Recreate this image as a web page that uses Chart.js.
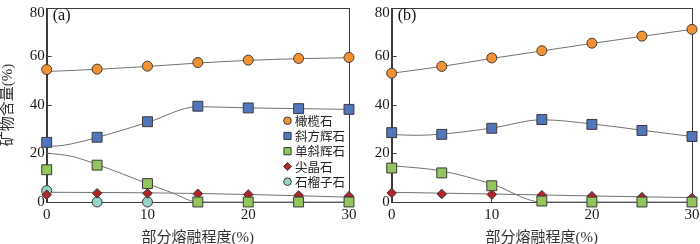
<!DOCTYPE html>
<html>
<head>
<meta charset="utf-8">
<script src="https://cdn.jsdelivr.net/npm/chart.js@4.4.0/dist/chart.umd.min.js"></script>
<style>
    html, body { margin: 0; padding: 0; background: #fff; }
    #wrap { position: relative; width: 700px; height: 244px; overflow: hidden; }
    #boxA { position: absolute; left: 0; top: 0; width: 365px; height: 244px; }
    #boxB { position: absolute; left: 365px; top: 0; width: 335px; height: 244px; }
</style>
</head>
<body>
<div id="wrap">
    <div id="boxA"><canvas id="chartA"></canvas></div>
    <div id="boxB"><canvas id="chartB"></canvas></div>
</div>
<script>
// =============================
// Data
// =============================

const meltX = [0, 5, 10, 15, 20, 25, 30];
const garnetX = [0, 5, 10];
const xTicks = [0, 10, 20, 30];
const yTicks = [0, 20, 40, 60, 80];

// (a) measured points
const olivineA = [54.6, 54.8, 56.0, 57.5, 58.5, 59.2, 59.6];
const opxA = [24.6, 26.7, 33.1, 39.5, 38.8, 38.5, 38.2];
const cpxA = [13.3, 15.2, 7.6, 0, 0, 0, 0];
const spinelA = [3.0, 3.6, 3.6, 3.4, 3.1, 2.7, 2.4];
const garnetA = [4.7, 0, 0];

// (a) fitted curves [x, y]
const olivineFitA = [[0, 53.8], [5, 54.7], [10, 55.9], [15, 57.3], [20, 58.4], [25, 59.1], [30, 59.5]];
const opxFitA = [[0, 23.0], [1, 23.1], [2.5, 24.0], [5, 26.6], [10, 32.8], [15, 39.3], [20, 38.8], [25, 38.5], [30, 38.2]];
const cpxFitA = [[0, 20.2], [2.5, 18.8], [5, 15.5], [7.5, 11.6], [10, 7.6], [12.5, 3.7], [15, 0], [30, 0]];
const spinelFitA = [[0, 4.0], [10, 3.8], [20, 3.1], [30, 2.0]];

// (b) measured points
const olivineB = [53.1, 55.9, 59.4, 62.4, 65.5, 68.4, 71.2];
const opxB = [28.6, 27.9, 30.4, 34.0, 32.0, 29.5, 27.0];
const cpxB = [14.0, 12.0, 6.7, 0.4, 0, 0, 0];
const spinelB = [3.7, 3.3, 3.1, 2.8, 2.4, 2.0, 1.6];

// (b) fitted curves [x, y]
const olivineFitB = [[0, 53.1], [5, 55.9], [10, 59.2], [15, 62.3], [20, 65.4], [25, 68.3], [30, 71.2]];
const opxFitB = [[0, 27.8], [2.5, 27.5], [5, 28.0], [10, 30.5], [15, 33.9], [20, 32.2], [25, 29.6], [30, 27.0]];
const cpxFitB = [[0, 15.0], [5, 12.8], [10, 7.4], [15, 0], [30, 0]];
const spinelFitB = [[0, 4.0], [10, 3.3], [20, 2.5], [30, 1.8]];

const legendNames = ['橄榄石', '斜方辉石', '单斜辉石', '尖晶石', '石榴子石'];


// =============================
// Styles
// =============================

const COLORS = {
    olivine: '#F5922F',
    opx: '#5076BD',
    cpx: '#92C55A',
    spinel: '#B5232A',
    garnet: '#92D5CB'
};
const EDGE = '#3a3a3a';
const AXIS = '#3c3c3c';
const SERIF = '"Liberation Serif", "DejaVu Serif", serif';
const CJK = '"Liberation Serif", "Noto Sans CJK SC", serif';

Chart.defaults.font.family = SERIF;

function pts(xs, ys) {
    return ys.map((y, i) => ({ x: xs[i], y: y }));
}

function pairs(list) {
    return list.map(p => ({ x: p[0], y: p[1] }));
}

function markers(label, data, style, color, radius) {
    return {
        type: 'scatter',
        label: label,
        data: data,
        pointStyle: style,
        pointRadius: radius,
        pointHoverRadius: radius,
        pointBackgroundColor: color,
        pointBorderColor: EDGE,
        pointBorderWidth: 1,
        showLine: false,
        clip: false,
        order: 1
    };
}

function curve(data) {
    return {
        type: 'line',
        data: pairs(data),
        borderColor: '#727272',
        borderWidth: 1,
        pointRadius: 0,
        fill: false,
        cubicInterpolationMode: 'monotone',
        clip: false,
        order: 2
    };
}


// =============================
// Plugins: frame, panel tag, legend
// =============================

const framePlugin = {
    id: 'frame',
    beforeDatasetsDraw(chart, args, opts) {
        const a = chart.chartArea;
        const ctx = chart.ctx;
        ctx.save();
        ctx.strokeStyle = AXIS;
        ctx.lineWidth = 1;
        ctx.strokeRect(Math.round(a.left) + 0.5, Math.round(a.top) + 0.5,
            Math.round(a.right - a.left), Math.round(a.bottom - a.top));
        ctx.fillStyle = '#111';
        ctx.font = '16px ' + SERIF;
        ctx.textBaseline = 'middle';
        ctx.textAlign = 'left';
        ctx.fillText(opts.tag, a.left + 6, 16);
        ctx.restore();
    }
};

const legendPlugin = {
    id: 'mineralLegend',
    afterDatasetsDraw(chart) {
        const ctx = chart.ctx;
        const styles = [
            ['circle', COLORS.olivine],
            ['rect', COLORS.opx],
            ['rect', COLORS.cpx],
            ['diamond', COLORS.spinel],
            ['circle', COLORS.garnet]
        ];
        const mx = 287.5, tx = 295, y0 = 120.7, dy = 15.25;
        ctx.save();
        ctx.strokeStyle = EDGE;
        ctx.lineWidth = 1;
        legendNames.forEach((name, i) => {
            const y = y0 + i * dy;
            const s = styles[i];
            ctx.fillStyle = s[1];
            ctx.beginPath();
            if (s[0] === 'circle') {
                ctx.arc(mx, y, 3.8, 0, Math.PI * 2);
            } else if (s[0] === 'rect') {
                ctx.rect(mx - 3.6, y - 3.6, 7.2, 7.2);
            } else {
                ctx.moveTo(mx - 4, y);
                ctx.lineTo(mx, y - 4);
                ctx.lineTo(mx + 4, y);
                ctx.lineTo(mx, y + 4);
                ctx.closePath();
            }
            ctx.fill();
            ctx.stroke();
            ctx.fillStyle = '#222';
            ctx.font = '12.5px "Noto Sans CJK SC", sans-serif';
            ctx.textBaseline = 'middle';
            ctx.textAlign = 'left';
            ctx.fillText(name, tx, y + 0.5);
        });
        ctx.restore();
    }
};


// =============================
// Chart Configuration
// =============================

function createPanel(canvasId, datasets, cfg) {
    return new Chart(document.getElementById(canvasId), {
        type: 'scatter',
        data: { datasets: datasets },
        plugins: cfg.legend ? [framePlugin, legendPlugin] : [framePlugin],
        options: {
            responsive: true,
            maintainAspectRatio: false,
            animation: false,
            events: [],
            layout: { padding: { left: 0, right: cfg.padRight, top: 2, bottom: 0 } },
            plugins: {
                legend: { display: false },
                tooltip: { enabled: false },
                frame: { tag: cfg.tag }
            },
            scales: {
                x: {
                    type: 'linear',
                    min: 0,
                    max: 30,
                    afterBuildTicks: s => { s.ticks = xTicks.map(v => ({ value: v })); },
                    afterFit: s => { s.height = 42; s.paddingLeft = 0; s.paddingRight = 0; },
                    grid: { drawOnChartArea: false, tickLength: -5, color: AXIS },
                    border: { color: AXIS },
                    ticks: {
                        padding: 9,
                        maxRotation: 0,
                        autoSkip: false,
                        color: '#1a1a1a',
                        font: { family: SERIF, size: 15 }
                    },
                    title: {
                        display: true,
                        text: '部分熔融程度(%)',
                        color: '#333',
                        padding: 0,
                        font: { family: CJK, size: 15, lineHeight: 0.8 }
                    }
                },
                y: {
                    min: 0,
                    max: 80,
                    afterBuildTicks: s => { s.ticks = yTicks.map(v => ({ value: v })); },
                    afterFit: s => { s.width = cfg.yWidth; s.paddingTop = 0; s.paddingBottom = 0; },
                    grid: { drawOnChartArea: false, tickLength: -5, color: AXIS },
                    border: { color: AXIS },
                    ticks: {
                        padding: 7,
                        color: '#1a1a1a',
                        // top label sits a bit lower so it is not cut off
                        callback: v => v === 80 ? ['', '80'] : String(v),
                        font: { family: SERIF, size: 15, lineHeight: 0.7 }
                    },
                    title: {
                        display: cfg.yTitle,
                        text: '矿物含量(%)',
                        color: '#333',
                        padding: { top: 2, bottom: 0 },
                        font: { family: CJK, size: 15, lineHeight: 0.8 }
                    }
                }
            }
        }
    });
}

const chartA = createPanel('chartA', [
    curve(olivineFitA),
    curve(opxFitA),
    curve(cpxFitA),
    curve(spinelFitA),
    markers('橄榄石', pts(meltX, olivineA), 'circle', COLORS.olivine, 5),
    markers('斜方辉石', pts(meltX, opxA), 'rect', COLORS.opx, 7),
    markers('单斜辉石', pts(meltX, cpxA), 'rect', COLORS.cpx, 7),
    markers('尖晶石', pts(meltX, spinelA), 'rectRot', COLORS.spinel, 4.8),
    markers('石榴子石', pts(garnetX, garnetA), 'circle', COLORS.garnet, 5)
], { tag: '(a)', legend: true, yTitle: true, yWidth: 46.7, padRight: 16 });

const chartB = createPanel('chartB', [
    curve(olivineFitB),
    curve(opxFitB),
    curve(cpxFitB),
    curve(spinelFitB),
    markers('橄榄石', pts(meltX, olivineB), 'circle', COLORS.olivine, 5),
    markers('斜方辉石', pts(meltX, opxB), 'rect', COLORS.opx, 7),
    markers('单斜辉石', pts(meltX, cpxB), 'rect', COLORS.cpx, 7),
    markers('尖晶石', pts(meltX, spinelB), 'rectRot', COLORS.spinel, 4.8)
], { tag: '(b)', legend: false, yTitle: false, yWidth: 26.7, padRight: 5 });
</script>
</body>
</html>
